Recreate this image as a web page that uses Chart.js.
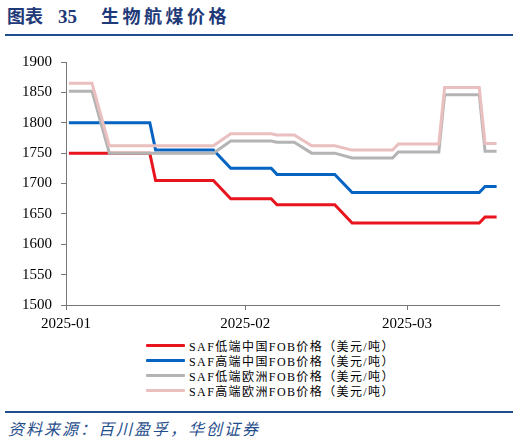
<!DOCTYPE html>
<html>
<head>
<meta charset="utf-8">
<script src="https://cdn.jsdelivr.net/npm/chart.js@4.4.1/dist/chart.umd.min.js"></script>
<style>
  body { margin: 0; background: #fff; width: 520px; height: 443px; position: relative; overflow: hidden;
         font-family: "Liberation Serif", "Noto Sans CJK SC", serif; }
  .title { position: absolute; top: 4px; left: 7px; height: 26px; font-size: 18px; font-weight: bold; color: #1f3a78; white-space: nowrap; }
  .title span { position: absolute; top: 0; line-height: 26px; }
  .title .num { left: 51px; font-size: 19px; }
  .title .name { left: 94px; letter-spacing: 3.5px; }
  .rule { position: absolute; left: 5px; width: 508px; height: 2px; background: #1f4e8c; }
  #wrap { position: absolute; left: 0; top: 40px; width: 520px; height: 295px; }
  #legend { position: absolute; left: 146px; top: 338px; }
  .item { height: 15px; display: flex; align-items: center; font-size: 12px; color: #000; white-space: nowrap; }
  .item .swatch { width: 39px; height: 3px; margin-right: 4px; border-radius: 1px; }
  .item span { letter-spacing: 1.4px; }
  .source { position: absolute; left: 8px; top: 418px; font-size: 16px; font-style: italic; letter-spacing: 2px; color: #1f4e8c;
            font-family: "Noto Sans CJK SC", sans-serif; white-space: nowrap; line-height: 20px; }
</style>
</head>
<body>
<div class="title"><span style="left:0">图表</span><span class="num">35</span><span class="name">生物航煤价格</span></div>
<div class="rule" style="top:34px"></div>
<div id="wrap"><canvas id="priceChart"></canvas></div>
<div id="legend"></div>
<div class="rule" style="top:411px"></div>
<div class="source">资料来源：百川盈孚，华创证券</div>

<script>
// dates where the price lines change (daily series, flat between them)
const dates = ['2025-01-01', '2025-01-05', '2025-01-08', '2025-01-15', '2025-01-16', '2025-01-26', '2025-01-29',
  '2025-02-05', '2025-02-06', '2025-02-09', '2025-02-12', '2025-02-16', '2025-02-19', '2025-02-26', '2025-02-27',
  '2025-03-06', '2025-03-07', '2025-03-13', '2025-03-14', '2025-03-16'];

const lowChina = [1750, 1750, 1750, 1750, 1705, 1705, 1675, 1675, 1665, 1665, 1665, 1665, 1635, 1635, 1635, 1635, 1635, 1635, 1645, 1645];
const highChina = [1800, 1800, 1800, 1800, 1755, 1755, 1725, 1725, 1715, 1715, 1715, 1715, 1685, 1685, 1685, 1685, 1685, 1685, 1695, 1695];
const lowEurope = [1852, 1852, 1750, 1750, 1750, 1750, 1770, 1770, 1768, 1768, 1750, 1750, 1742, 1742, 1752, 1752, 1846, 1846, 1753, 1753];
const highEurope = [1865, 1865, 1762, 1762, 1762, 1762, 1782, 1782, 1780, 1780, 1762, 1762, 1755, 1755, 1765, 1765, 1858, 1858, 1766, 1766];

const seriesNames = ['SAF低端中国FOB价格（美元/吨）', 'SAF高端中国FOB价格（美元/吨）', 'SAF低端欧洲FOB价格（美元/吨）', 'SAF高端欧洲FOB价格（美元/吨）'];
const seriesColors = ['#e8141e', '#0563c1', '#b4b4b4', '#eabfbf'];

const monthTicks = ['2025-01-01', '2025-02-01', '2025-03-01'];
const monthLabels = ['2025-01', '2025-02', '2025-03'];
const yTicks = { min: 1500, max: 1900, step: 50 };

// days since Jan 1, points sit at midday
const dayOf = d => (Date.parse(d + 'T00:00:00Z') - Date.parse('2025-01-01T00:00:00Z')) / 864e5;
const monthDays = monthTicks.map(dayOf);

function toPoints(values) {
    return values.map((v, i) => ({ x: dayOf(dates[i]) + 0.5, y: v }));
}

const allValues = [lowChina, highChina, lowEurope, highEurope];

const ctx = document.getElementById('priceChart').getContext('2d');
const chart = new Chart(ctx, {
    type: 'line',
    data: {
        datasets: allValues.map((vals, i) => ({
            label: seriesNames[i],
            data: toPoints(vals),
            borderColor: seriesColors[i],
            backgroundColor: seriesColors[i],
            borderWidth: 3,
            pointRadius: 0,
            tension: 0,
            order: allValues.length - i
        }))
    },
    options: {
        responsive: true,
        maintainAspectRatio: false,
        animation: false,
        layout: { padding: { left: 0, right: 20.5, top: 22, bottom: 0 } },
        plugins: {
            legend: { display: false },
            tooltip: { enabled: false }
        },
        scales: {
            x: {
                type: 'linear',
                min: 0,
                max: 75,
                afterBuildTicks: scale => { scale.ticks = monthDays.map(v => ({ value: v })); },
                afterFit: scale => { scale.height = 30; },
                ticks: {
                    autoSkip: false,
                    maxRotation: 0,
                    padding: 5,
                    color: '#000',
                    font: { family: '"Liberation Serif"', size: 15 },
                    callback: (value, index) => monthLabels[index]
                },
                grid: { drawOnChartArea: false, tickLength: 5, color: '#777' },
                border: { color: '#777', width: 1 }
            },
            y: {
                min: yTicks.min,
                max: yTicks.max,
                afterFit: scale => { scale.width = 66; },
                ticks: {
                    stepSize: yTicks.step,
                    padding: 9,
                    color: '#000',
                    font: { family: '"Liberation Serif"', size: 15 },
                    callback: value => String(value)
                },
                grid: { drawOnChartArea: false, tickLength: 5, color: '#777' },
                border: { color: '#777', width: 1 }
            }
        }
    }
});

// legend as a single column below the plot
const legend = document.getElementById('legend');
seriesNames.forEach((name, i) => {
    const row = document.createElement('div');
    row.className = 'item';
    row.innerHTML = '<div class="swatch" style="background:' + seriesColors[i] + '"></div><span>' + name + '</span>';
    legend.appendChild(row);
});
</script>
</body>
</html>
